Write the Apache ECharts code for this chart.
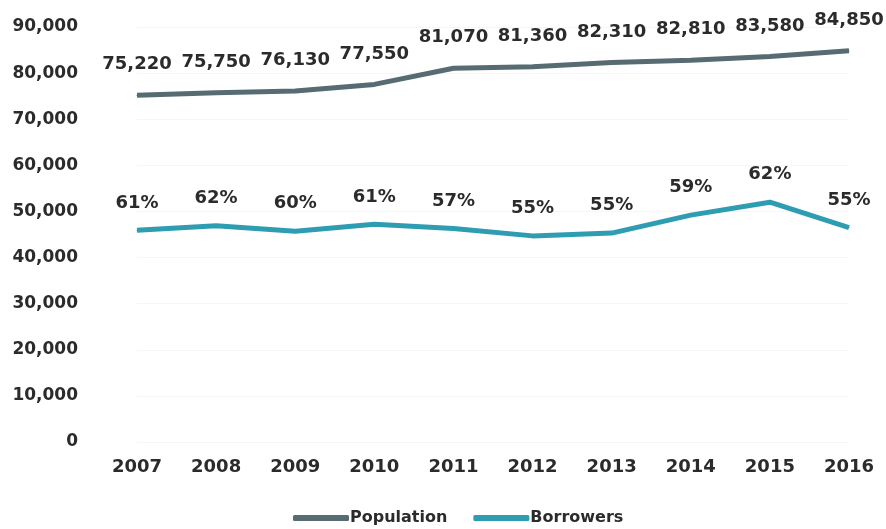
<!DOCTYPE html>
<html>
<head>
<meta charset="utf-8">
<script src="https://cdn.jsdelivr.net/npm/echarts@6/dist/echarts.min.js"></script>
<style>
  html, body { margin: 0; padding: 0; background: #fff; }
  #chart { width: 886px; height: 529px; }
</style>
</head>
<body>
<div id="chart"></div>
<script>
// Years on the category axis
const years = ['2007', '2008', '2009', '2010', '2011', '2012', '2013', '2014', '2015', '2016'];
// Total population per year
const population = [75220, 75750, 76130, 77550, 81070, 81360, 82310, 82810, 83580, 84850];
// Number of borrowers per year
const borrowers = [45900, 46900, 45700, 47200, 46300, 44700, 45300, 49200, 52000, 46500];
// Share of the population that borrows, shown over the borrowers line
const borrowerShare = ['61%', '62%', '60%', '61%', '57%', '55%', '55%', '59%', '62%', '55%'];

const FONT = '"DejaVu Sans", sans-serif';
const TEXT = '#2b2b2b';
const POP_COLOR = '#576b72';
const BOR_COLOR = '#2e9db2';
const chart = echarts.init(document.getElementById('chart'));

chart.setOption({
  animation: false,
  backgroundColor: '#ffffff',
  textStyle: { fontFamily: FONT },
  grid: { left: 137, right: 37, top: 27, bottom: 87 },
  legend: {
    bottom: -2,
    left: 288,
    itemWidth: 56,
    itemHeight: 6,
    itemGap: 26,
    icon: 'roundRect',
    textStyle: { fontFamily: FONT, fontSize: 16, fontWeight: 'bold', color: TEXT, padding: [0, 0, 0, -4] },
    data: ['Population', 'Borrowers']
  },
  xAxis: {
    type: 'category',
    data: years,
    boundaryGap: false,
    axisLine: { show: false },
    axisTick: { show: false },
    axisLabel: { margin: 16, fontFamily: FONT, fontSize: 18, fontWeight: 'bold', color: TEXT }
  },
  yAxis: {
    type: 'value',
    min: 0,
    max: 90000,
    interval: 10000,
    axisLine: { show: false },
    axisTick: { show: false },
    splitLine: { lineStyle: { color: '#f6f6f6', width: 1 } },
    axisLabel: {
      margin: 59,
      fontFamily: FONT,
      fontSize: 17,
      fontWeight: 'bold',
      color: TEXT,
      formatter: v => v.toLocaleString('en-US')
    }
  },
  series: [
    {
      name: 'Population',
      type: 'line',
      data: population,
      symbol: 'circle',
      symbolSize: 1,
      color: POP_COLOR,
      itemStyle: { color: POP_COLOR },
      lineStyle: { width: 5, color: POP_COLOR },
      label: {
        show: true,
        position: 'top',
        distance: 21,
        fontFamily: FONT,
        fontSize: 18,
        fontWeight: 'bold',
        color: TEXT,
        formatter: p => p.value.toLocaleString('en-US')
      }
    },
    {
      name: 'Borrowers',
      type: 'line',
      data: borrowers,
      symbol: 'circle',
      symbolSize: 1,
      color: BOR_COLOR,
      itemStyle: { color: BOR_COLOR },
      lineStyle: { width: 5, color: BOR_COLOR },
      label: {
        show: true,
        position: 'top',
        distance: 18,
        fontFamily: FONT,
        fontSize: 18,
        fontWeight: 'bold',
        color: TEXT,
        formatter: p => borrowerShare[p.dataIndex]
      }
    }
  ]
});
</script>
</body>
</html>
